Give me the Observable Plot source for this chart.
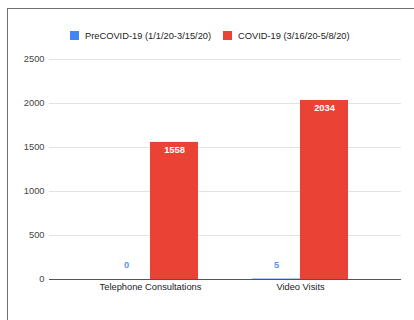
<!DOCTYPE html>
<html>
<head>
<meta charset="utf-8">
<script src="https://cdn.jsdelivr.net/npm/d3@7"></script>
<script src="https://cdn.jsdelivr.net/npm/@observablehq/plot@0.6"></script>
<style>
  html, body { margin: 0; padding: 0; background: #fff; overflow: hidden; }
  #wrap { position: relative; width: 414px; height: 320px; font-family: "Liberation Sans", Arial, sans-serif; }
  .layer { position: absolute; left: 0; top: 0; }
  #frame { position: absolute; left: 7px; top: 8px; width: 420px; height: 330px;
           border-left: 1px solid #6f6f6f; border-top: 1px solid #6f6f6f;
           box-shadow: -0.5px -0.5px 1px #bbb; pointer-events: none; }
  #legend { position: absolute; top: 29px; left: 0; height: 14px; font-size: 9.3px; color: #222; }
  .item { position: absolute; top: 0; height: 14px; line-height: 14px; white-space: nowrap; }
  .sw { position: absolute; top: 2px; left: 0; width: 9px; height: 9px; }
  .lab { position: absolute; left: 15px; top: 0; }
</style>
</head>
<body>
<div id="wrap">
  <div id="grid" class="layer"></div>
  <div id="bars" class="layer"></div>
  <div id="base" class="layer"></div>
  <div id="legend"></div>
  <div id="frame"></div>
</div>
<script>
const categories = ["Telephone Consultations", "Video Visits"];
const series = ["PreCOVID-19 (1/1/20-3/15/20)", "COVID-19 (3/16/20-5/8/20)"];
const preCovidValues = [0, 5];
const covidValues = [1558, 2034];
const yTicks = [0, 500, 1000, 1500, 2000, 2500];
const seriesColors = ["#4285F4", "#EA4335"];

const data = categories.flatMap((c, i) => [
  {category: c, series: series[0], value: preCovidValues[i]},
  {category: c, series: series[1], value: covidValues[i]}
]);

const common = {
  width: 414,
  height: 320,
  marginLeft: 49,
  marginRight: 13,
  marginTop: 59,
  marginBottom: 41,
  style: {fontFamily: "'Liberation Sans', Arial, sans-serif", fontSize: "9.3px", background: "transparent"},
  y: {domain: [0, 2500], axis: null}
};

// Layer 1: gridlines and y tick labels
const gridPlot = Plot.plot({
  ...common,
  marks: [
    Plot.ruleY(yTicks.filter(t => t > 0), {stroke: "#e2e2e2", strokeWidth: 1.2}),
    Plot.text(yTicks, {y: d => d, text: d => String(d), frameAnchor: "left", dx: -5, textAnchor: "end", fill: "#444"})
  ]
});
document.getElementById("grid").appendChild(gridPlot);

// Layer 2: grouped bars
const barPlot = Plot.plot({
  ...common,
  fx: {domain: categories, paddingInner: 0.2, paddingOuter: 0.2733, label: null, axis: null},
  x: {domain: series, axis: null, paddingInner: 0, paddingOuter: 0.25},
  color: {domain: series, range: seriesColors},
  marks: [
    Plot.barY(data, {fx: "category", x: "series", y: "value", fill: "series"}),
    Plot.axisFx({anchor: "bottom", label: null, tickSize: 0, tickPadding: 4, fill: "#222"}),
    Plot.text(data.filter(d => d.series === series[0]), {fx: "category", x: "series", y: "value", text: d => String(d.value), dy: -14, fill: "#5a93f5", fontWeight: "bold"}),
    Plot.text(data.filter(d => d.series === series[1]), {fx: "category", x: "series", y: "value", text: d => String(d.value), dy: 8, fill: "white", fontWeight: "bold"})
  ]
});
document.getElementById("bars").appendChild(barPlot);

// Layer 3: baseline
const basePlot = Plot.plot({
  ...common,
  marks: [Plot.ruleY([0], {stroke: "#555", strokeWidth: 1.1})]
});
document.getElementById("base").appendChild(basePlot);

const legend = document.getElementById("legend");
const legendX = [70, 223];
series.forEach((s, i) => {
  const item = document.createElement("div");
  item.className = "item";
  item.style.left = legendX[i] + "px";
  const sw = document.createElement("span");
  sw.className = "sw";
  sw.style.background = seriesColors[i];
  const lab = document.createElement("span");
  lab.className = "lab";
  lab.textContent = s;
  item.appendChild(sw);
  item.appendChild(lab);
  legend.appendChild(item);
});
</script>
</body>
</html>
